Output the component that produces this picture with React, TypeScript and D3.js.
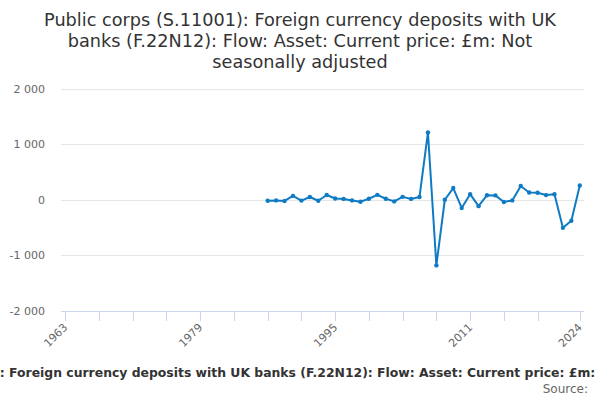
import * as d3 from "d3";
import { useEffect, useRef } from "react";

const titleLines = [
  "Public corps (S.11001): Foreign currency deposits with UK",
  "banks (F.22N12): Flow: Asset: Current price: £m: Not",
  "seasonally adjusted",
];

const captionText =
  "Public corps (S.11001): Foreign currency deposits with UK banks (F.22N12): Flow: Asset: Current price: £m: Not seasonally adjusted";

const axisStartYear = 1963;
const axisEndYear = 2024;

const tickYears = [1963, 1967, 1971, 1975, 1979, 1983, 1987, 1991, 1995, 1999, 2003, 2007, 2011, 2015, 2019, 2024];
const labelYears = [1963, 1979, 1995, 2011, 2024];
const yTicks = [-2000, -1000, 0, 1000, 2000];

const dataYears = [
  1987, 1988, 1989, 1990, 1991, 1992, 1993, 1994, 1995, 1996, 1997, 1998, 1999,
  2000, 2001, 2002, 2003, 2004, 2005, 2006, 2007, 2008, 2009, 2010, 2011, 2012,
  2013, 2014, 2015, 2016, 2017, 2018, 2019, 2020, 2021, 2022, 2023, 2024,
];

const dataValues = [
  -18, -12, -22, 70, -15, 50, -18, 85, 22, 15, -12, -35, 18,
  88, 18, -30, 52, 15, 50, 1210, -1180, 0, 210, -148, 100, -115,
  82, 78, -40, -12, 246, 130, 126, 84, 100, -505, -378, 255,
];

type Point = { year: number; value: number };

const lineColor = "#0f7bc4";
const font = "'DejaVu Sans', sans-serif";

export default function App() {
  const svgRef = useRef<SVGSVGElement | null>(null);

  useEffect(() => {
    if (!svgRef.current) return;
    const svg = d3.select(svgRef.current);
    svg.selectAll("*").remove();

    const width = 600;
    const height = 400;
    const plot = { left: 61, right: 584, top: 88.5, bottom: 311 };

    const points: Point[] = dataYears.map((year, i) => ({ year, value: dataValues[i] }));

    const x = d3
      .scaleLinear()
      .domain([axisStartYear - 0.5, axisEndYear + 0.5])
      .range([plot.left, plot.right]);

    const y = d3.scaleLinear().domain([-2000, 2000]).range([plot.bottom, plot.top]);

    svg.attr("viewBox", `0 0 ${width} ${height}`);

    svg.append("rect").attr("width", width).attr("height", height).attr("fill", "#ffffff");

    // title
    svg
      .append("g")
      .selectAll("text")
      .data(titleLines)
      .join("text")
      .attr("x", width / 2)
      .attr("y", (_, i) => 26 + i * 21)
      .attr("text-anchor", "middle")
      .attr("font-family", font)
      .attr("font-size", 17.7)
      .attr("fill", "#333333")
      .text((d) => d);

    // grid + y labels
    const grid = svg.append("g");
    grid
      .selectAll("line")
      .data(yTicks.filter((t) => t !== -2000))
      .join("line")
      .attr("x1", plot.left)
      .attr("x2", plot.right)
      .attr("y1", (d) => Math.round(y(d)) + 0.5)
      .attr("y2", (d) => Math.round(y(d)) + 0.5)
      .attr("stroke", "#e6e6e6")
      .attr("stroke-width", 1);

    grid
      .selectAll("text")
      .data(yTicks)
      .join("text")
      .attr("x", 45)
      .attr("y", (d) => y(d) + 4)
      .attr("text-anchor", "end")
      .attr("font-family", font)
      .attr("font-size", 11)
      .attr("fill", "#666666")
      .text((d) => d3.format(",")(d).replace(/,/g, " ").replace("−", "-"));

    // x axis
    const xAxis = svg.append("g");
    xAxis
      .append("line")
      .attr("x1", plot.left)
      .attr("x2", plot.right)
      .attr("y1", plot.bottom + 0.5)
      .attr("y2", plot.bottom + 0.5)
      .attr("stroke", "#ccd6eb");

    xAxis
      .selectAll(".tick")
      .data(tickYears)
      .join("line")
      .attr("class", "tick")
      .attr("x1", (d) => Math.round(x(d)) + 0.5)
      .attr("x2", (d) => Math.round(x(d)) + 0.5)
      .attr("y1", plot.bottom)
      .attr("y2", plot.bottom + 10)
      .attr("stroke", "#ccd6eb");

    xAxis
      .selectAll(".xlabel")
      .data(labelYears)
      .join("text")
      .attr("class", "xlabel")
      .attr("transform", (d) => `translate(${x(d) + 3},${plot.bottom + 17}) rotate(-45)`)
      .attr("text-anchor", "end")
      .attr("font-family", font)
      .attr("font-size", 11)
      .attr("fill", "#666666")
      .text((d) => d);

    // series
    const line = d3
      .line<Point>()
      .x((d) => x(d.year))
      .y((d) => y(d.value));

    const series = svg.append("g");
    series
      .append("path")
      .datum(points)
      .attr("d", line)
      .attr("fill", "none")
      .attr("stroke", lineColor)
      .attr("stroke-width", 2)
      .attr("stroke-linejoin", "round")
      .attr("stroke-linecap", "round");

    series
      .selectAll("circle")
      .data(points)
      .join("circle")
      .attr("cx", (d) => x(d.year))
      .attr("cy", (d) => y(d.value))
      .attr("r", 2.2)
      .attr("fill", lineColor);

    // caption (overflows the page, as in the original) + source
    svg
      .append("text")
      .attr("x", width / 2 + 5)
      .attr("y", 377)
      .attr("text-anchor", "middle")
      .attr("font-family", font)
      .attr("font-size", 12.4)
      .attr("font-weight", "bold")
      .attr("fill", "#333333")
      .text(captionText);

    svg
      .append("text")
      .attr("x", 588)
      .attr("y", 393)
      .attr("text-anchor", "end")
      .attr("font-family", font)
      .attr("font-size", 12)
      .attr("fill", "#666666")
      .text("Source:");
  }, []);

  return (
    <svg
      ref={svgRef}
      width={600}
      height={400}
      style={{ position: "absolute", left: 0, top: 0, display: "block" }}
    />
  );
}
